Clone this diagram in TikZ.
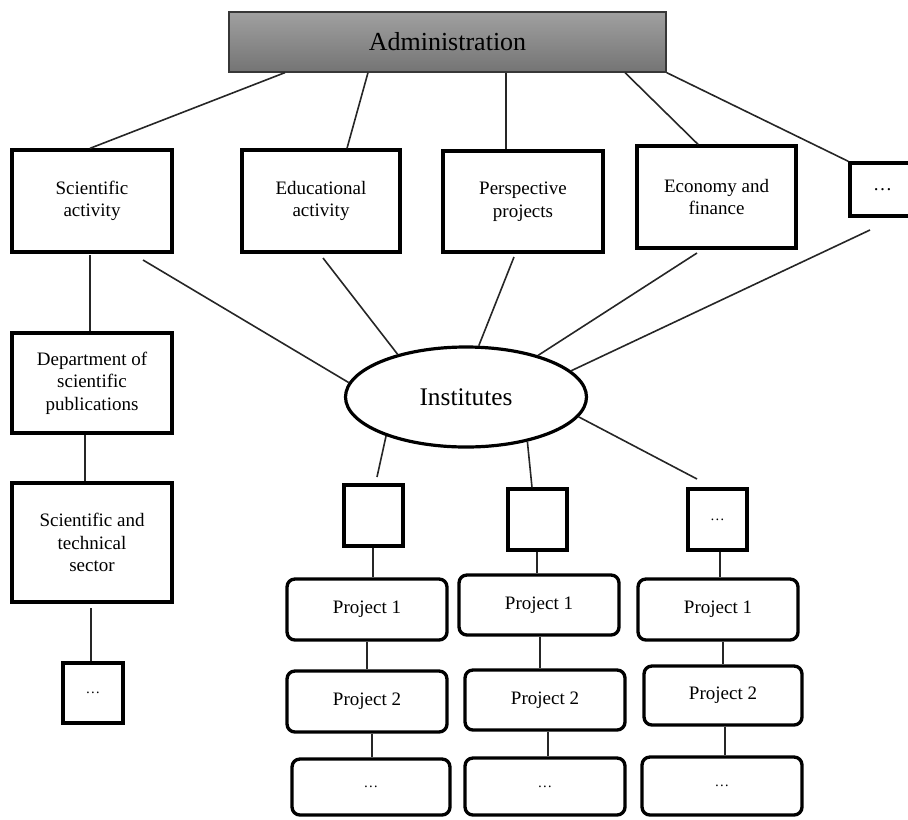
\documentclass[tikz,border=0pt]{standalone}
\usepackage{fontspec}
\setmainfont{Liberation Serif}
\usetikzlibrary{shapes.geometric}
\definecolor{admtop}{RGB}{160,160,160}
\definecolor{admbot}{RGB}{116,116,116}
\definecolor{admline}{RGB}{55,55,55}
\tikzset{
  box/.style={draw=black, line width=2.5pt, inner sep=0pt, align=center,
    font=\fontsize{14.25}{17}\selectfont},
  bigbox/.style={box, minimum width=120pt, minimum height=76.5pt},
  sqbox/.style={box, minimum width=44.25pt, minimum height=45.75pt, font=\fontsize{11}{13}\selectfont},
  rbox/.style={box, rounded corners=6pt, minimum width=120pt, minimum height=45.75pt},
  admbox/.style={draw=admline, line width=0.9pt, inner sep=0pt, top color=admtop, bottom color=admbot,
    minimum width=327.75pt, minimum height=45pt, font=\fontsize{19.5}{22}\selectfont},
  instbox/.style={draw=black, ellipse, line width=2.4pt, inner sep=0pt,
    minimum width=180.75pt, minimum height=75pt, font=\fontsize{19}{22}\selectfont},
  conn/.style={draw=black!85, line width=1.2pt}
}
\begin{document}
\begin{tikzpicture}[x=0.75pt,y=-0.75pt]
\useasboundingbox (0,0) rectangle (908,819);
% top
\node[admbox] (admin) at (447.5,42) {Administration};
\node[bigbox] (sci) at (92,201) {Scientific\\activity};
\node[bigbox, minimum width=118.5pt] (edu) at (321,201) {Educational\\activity};
\node[bigbox, minimum height=75.75pt] (persp) at (523,201.5) {Perspective\\projects};
\node[bigbox, minimum width=119.25pt] (econ) at (716.5,197) {Economy and\\finance};
\node[box, minimum width=48.75pt, minimum height=39.75pt] (dotsA) at (882.5,189.5) {\ldots};
% institutes
\node[instbox] (inst) at (466,397) {Institutes};
% left column
\node[bigbox, minimum height=75pt] (dept) at (92,383) {Department of\\scientific\\publications};
\node[bigbox, minimum height=89.25pt] (sector) at (92,542.5) {Scientific and\\technical\\sector};
\node[sqbox, minimum width=45pt, minimum height=45pt] (ldots) at (93,693) {\ldots};
% small squares
\node[sqbox] (sqA) at (373.5,515.5) {};
\node[sqbox] (sqB) at (537.5,519.5) {};
\node[sqbox] (sqC) at (717.5,519.5) {\ldots};
% projects
\node[rbox] (pA1) at (367,609.5) {Project 1};
\node[rbox] (pA2) at (367,701.5) {Project 2};
\node[rbox, minimum width=118.5pt, minimum height=42pt, font=\fontsize{11}{13}\selectfont] (pA3) at (371,787) {\ldots};
\node[rbox, minimum height=45pt] (pB1) at (539,605) {Project 1};
\node[rbox, minimum height=45pt] (pB2) at (545,700) {Project 2};
\node[rbox, minimum height=42.75pt, font=\fontsize{11}{13}\selectfont] (pB3) at (545,786.5) {\ldots};
\node[rbox] (pC1) at (718,609.5) {Project 1};
\node[rbox, minimum width=118.5pt, minimum height=44.25pt] (pC2) at (723,695.5) {Project 2};
\node[rbox, minimum height=43.5pt, font=\fontsize{11}{13}\selectfont] (pC3) at (722,786) {\ldots};
% free ends
\coordinate (sciE) at (143,260);
\coordinate (eduE) at (323,258);
\coordinate (perE) at (514,257);
\coordinate (ecoE) at (697,253);
\coordinate (dotE) at (870,230);
\coordinate (sciD) at (90,255);
\coordinate (secD) at (91,608);
\coordinate (sqAE) at (377,477);
\coordinate (sqCE) at (697,479);
% admin connectors
\draw[conn] (admin.south -| 285,0) -- (sci.north -| 90,0);
\draw[conn] (admin.south -| 368,0) -- (edu.north -| 347,0);
\draw[conn] (admin.south -| 506,0) -- (persp.north -| 506,0);
\draw[conn] (admin.south -| 625,0) -- (econ.north -| 698,0);
\draw[conn] (admin.south east) -- (dotsA.north west);
% to institutes
\draw[conn] (sciE) -- (inst.173);
\draw[conn] (eduE) -- (inst.148);
\draw[conn] (perE) -- (inst.76);
\draw[conn] (ecoE) -- (inst.30);
\draw[conn] (dotE) -- (inst.14);
\draw[conn] (inst.206) -- (sqAE);
\draw[conn] (inst.324) -- (sqB.north -| 532,0);
\draw[conn] (inst.350) -- (sqCE);
% left column
\draw[conn] (sciD) -- (dept.north -| 90,0);
\draw[conn] (dept.south -| 85,0) -- (sector.north -| 85,0);
\draw[conn] (secD) -- (ldots.north -| 91,0);
% project columns
\draw[conn] (sqA.south -| 373,0) -- (pA1.north -| 373,0);
\draw[conn] (pA1.south -| 367,0) -- (pA2.north -| 367,0);
\draw[conn] (pA2.south -| 372,0) -- (pA3.north -| 372,0);
\draw[conn] (sqB.south -| 537,0) -- (pB1.north -| 537,0);
\draw[conn] (pB1.south -| 540,0) -- (pB2.north -| 540,0);
\draw[conn] (pB2.south -| 548,0) -- (pB3.north -| 548,0);
\draw[conn] (sqC.south -| 720,0) -- (pC1.north -| 720,0);
\draw[conn] (pC1.south -| 723,0) -- (pC2.north -| 723,0);
\draw[conn] (pC2.south -| 725,0) -- (pC3.north -| 725,0);
\end{tikzpicture}
\end{document}
